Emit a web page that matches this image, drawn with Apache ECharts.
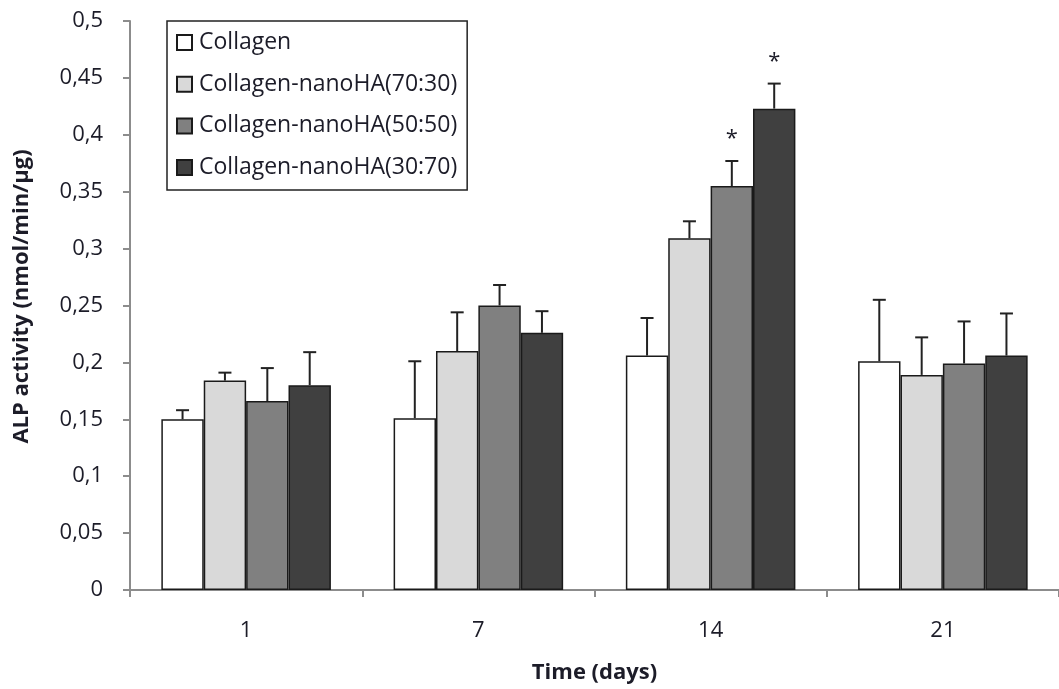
<!DOCTYPE html>
<html>
<head>
<meta charset="utf-8">
<script src="https://cdn.jsdelivr.net/npm/echarts@6/dist/echarts.min.js"></script>
<style>
  html, body { margin: 0; padding: 0; background: #fff; overflow: hidden; }
  #chart { position: absolute; left: 0; top: 0; width: 1059px; height: 689px; }
</style>
</head>
<body>
<div id="chart"></div>
<script>
// ALP activity per scaffold over time (mean and standard deviation)
const days = ['1', '7', '14', '21'];
const seriesNames = ['Collagen', 'Collagen-nanoHA(70:30)', 'Collagen-nanoHA(50:50)', 'Collagen-nanoHA(30:70)'];

const collagen = [0.150, 0.151, 0.206, 0.201];
const ha7030   = [0.184, 0.210, 0.309, 0.189];
const ha5050   = [0.166, 0.250, 0.355, 0.199];
const ha3070   = [0.180, 0.226, 0.423, 0.206];

const collagenSd = [0.008, 0.050, 0.033, 0.054];
const ha7030Sd   = [0.007, 0.034, 0.015, 0.033];
const ha5050Sd   = [0.029, 0.018, 0.022, 0.037];
const ha3070Sd   = [0.029, 0.019, 0.022, 0.037];

// significance markers (*)
const collagenSig = [false, false, false, false];
const ha7030Sig   = [false, false, false, false];
const ha5050Sig   = [false, false, true, false];
const ha3070Sig   = [false, false, true, false];

const yTickLabels = ['0', '0,05', '0,1', '0,15', '0,2', '0,25', '0,3', '0,35', '0,4', '0,45', '0,5'];

const means = [collagen, ha7030, ha5050, ha3070];
const sds = [collagenSd, ha7030Sd, ha5050Sd, ha3070Sd];
const sigs = [collagenSig, ha7030Sig, ha5050Sig, ha3070Sig];
const fills = ['#ffffff', '#d9d9d9', '#808080', '#404040'];

const FONT = '"Open Sans", "DejaVu Sans", sans-serif';
const TEXT = '#1c1c28';
const CATEGORY_GAP = 0.27;

const barSeries = seriesNames.map((name, i) => ({
  name: name,
  type: 'bar',
  data: means[i],
  barGap: '0%',
  barCategoryGap: (CATEGORY_GAP * 100) + '%',
  itemStyle: { color: fills[i], borderColor: '#1a1a1a', borderWidth: 1.5 },
  emphasis: { disabled: true },
  z: 2
}));

// error bars + significance stars, placed at each bar's centre
const errData = [];
means.forEach((arr, s) => {
  arr.forEach((v, c) => errData.push([c, s, v, sds[s][c], sigs[s][c] ? 1 : 0]));
});

const errorSeries = {
  type: 'custom',
  silent: true,
  z: 3,
  data: errData,
  encode: { x: 0, y: 2 },
  renderItem: function (params, api) {
    const c = api.value(0), s = api.value(1);
    const v = api.value(2), sd = api.value(3), star = api.value(4);
    const band = api.size([1, 0])[0];
    const bw = band * (1 - CATEGORY_GAP) / seriesNames.length;
    const x = api.coord([c, 0])[0] + (s - (seriesNames.length - 1) / 2) * bw;
    const y0 = api.coord([c, v])[1];
    const y1 = api.coord([c, v + sd])[1];
    const style = { stroke: '#222', lineWidth: 2 };
    const children = [
      { type: 'line', shape: { x1: x, y1: y0, x2: x, y2: y1 }, style: style },
      { type: 'line', shape: { x1: x - 6.5, y1: y1, x2: x + 6.5, y2: y1 }, style: style }
    ];
    if (star) {
      children.push({
        type: 'text',
        style: { text: '*', x: x, y: y1 - 22, align: 'center', verticalAlign: 'middle',
                 font: '22px ' + FONT, fill: TEXT }
      });
    }
    return { type: 'group', children: children };
  }
};

const chart = echarts.init(document.getElementById('chart'), null, { renderer: 'canvas', width: 1059, height: 689 });
chart.setOption({
  backgroundColor: '#ffffff',
  animation: false,
  grid: { left: 130, top: 21, width: 936, height: 575 },
  legend: {
    orient: 'vertical',
    left: 167,
    top: 21,
    data: seriesNames,
    icon: 'rect',
    itemWidth: 15,
    itemHeight: 15,
    itemGap: 18.7,
    padding: [10, 10, 11, 9],
    borderColor: '#222',
    borderWidth: 1.5,
    backgroundColor: '#fff',
    selectedMode: false,
    textStyle: { fontFamily: FONT, fontSize: 23, lineHeight: 23, color: TEXT, padding: [0, 0, 0, 2] }
  },
  xAxis: {
    type: 'category',
    data: days,
    name: 'Time (days)',
    nameLocation: 'middle',
    nameGap: 72,
    nameTextStyle: { fontFamily: FONT, fontSize: 22, fontWeight: 'bold', color: TEXT },
    axisLine: { lineStyle: { color: '#8c8c8c', width: 2 } },
    axisTick: { show: true, length: 7, lineStyle: { color: '#8c8c8c', width: 2 } },
    axisLabel: { margin: 30, fontFamily: FONT, fontSize: 22, color: TEXT }
  },
  yAxis: {
    type: 'value',
    min: 0,
    max: 0.5,
    interval: 0.05,
    name: 'ALP activity (nmol/min/μg)',
    nameLocation: 'middle',
    nameGap: 97,
    nameTextStyle: { fontFamily: FONT, fontSize: 22, fontWeight: 'bold', color: TEXT, padding: [0, 0, 0, 18] },
    axisLine: { show: true, lineStyle: { color: '#8c8c8c', width: 2 } },
    axisTick: { show: true, length: 7, lineStyle: { color: '#8c8c8c', width: 2 } },
    splitLine: { show: false },
    axisLabel: {
      margin: 27,
      fontFamily: FONT,
      fontSize: 22,
      color: TEXT,
      formatter: function (v) { return yTickLabels[Math.round(v / 0.05)]; }
    }
  },
  series: barSeries.concat([errorSeries])
});
</script>
</body>
</html>
